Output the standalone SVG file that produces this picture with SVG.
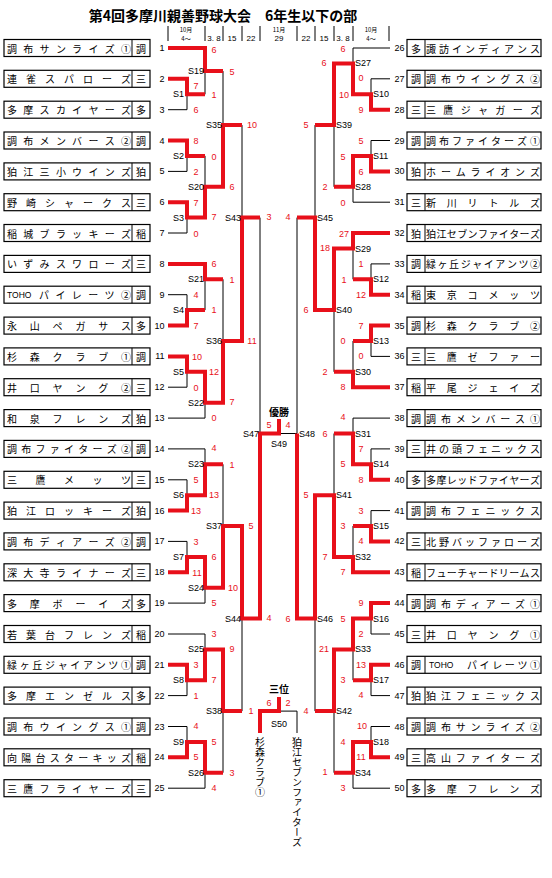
<svg xmlns="http://www.w3.org/2000/svg" xmlns:xlink="http://www.w3.org/1999/xlink" width="552" height="878" viewBox="0 0 552 878">
<style>
.title{font-family:"Noto Sans CJK JP",sans-serif;font-size:14px;font-weight:bold;text-anchor:middle;fill:#000}
.hd{font-family:"Liberation Sans","Noto Sans CJK JP",sans-serif;font-size:8px;text-anchor:middle;dominant-baseline:central;fill:#000}
.hs{font-family:"Noto Sans CJK JP",sans-serif;font-size:6px;text-anchor:middle;dominant-baseline:central;fill:#000}
.box{fill:#fff;stroke:#000;stroke-width:1.2}
.nm{font-family:"Noto Sans CJK JP",sans-serif;font-size:10px;text-anchor:middle;dominant-baseline:central;fill:#000}
.toho{font-family:"Liberation Sans",sans-serif;font-size:8.5px;dominant-baseline:central;fill:#000}
.nol{font-family:"Liberation Sans",sans-serif;font-size:9px;text-anchor:end;dominant-baseline:central;fill:#000}
.nor{font-family:"Liberation Sans",sans-serif;font-size:9px;text-anchor:start;dominant-baseline:central;fill:#000}
.sc{font-family:"Liberation Sans",sans-serif;font-size:9px;text-anchor:middle;dominant-baseline:central;fill:#e8101a}
.lbl{font-family:"Liberation Sans",sans-serif;font-size:9px;text-anchor:end;dominant-baseline:central;fill:#000}
.lbr{font-family:"Liberation Sans",sans-serif;font-size:9px;text-anchor:start;dominant-baseline:central;fill:#000}
.lbm{font-family:"Liberation Sans",sans-serif;font-size:9px;text-anchor:middle;dominant-baseline:central;fill:#000}
.fin{font-family:"Noto Sans CJK JP",sans-serif;font-size:10px;font-weight:bold;text-anchor:middle;dominant-baseline:central;fill:#000}
.vt{font-family:"Noto Sans CJK JP",sans-serif;font-size:10px;writing-mode:vertical-rl;fill:#000}
.blk{fill:none;stroke:#000;stroke-width:1}
.red{fill:none;stroke:#e8101a;stroke-width:4;stroke-linejoin:miter}
</style>
<defs>
<g id="lbox"><rect class="box" x="4" y="-8.5" width="146" height="17"/><line x1="132" y1="-8.5" x2="132" y2="8.5" stroke="#000" stroke-width="1"/></g>
<g id="rbox"><rect class="box" x="407" y="-8.5" width="134" height="17"/><line x1="425" y1="-8.5" x2="425" y2="8.5" stroke="#000" stroke-width="1"/></g>
</defs>
<rect width="552" height="878" fill="#fff"/>
<g id="header">
<text class="title" x="223" y="21">第4回多摩川親善野球大会　6年生以下の部</text>
<path d="M168,26V41M205,26V41M223,26V41M242,26V41M260,26V41M297,26V41M315,26V41M334,26V41M353,26V41M389,26V41" stroke="#000" stroke-width="1" fill="none"/>
<text class="hs" x="186" y="29.5">10月</text><text class="hs" x="186" y="38.5">4〜</text>
<text class="hd" x="214" y="38">3. 8</text><text class="hd" x="232" y="38">15</text><text class="hd" x="251" y="38">22</text>
<text class="hs" x="279" y="29">11月</text><text class="hd" x="279" y="38">29</text>
<text class="hd" x="306" y="38">22</text><text class="hd" x="324" y="38">15</text><text class="hd" x="343" y="38">3. 8</text>
<text class="hs" x="371" y="29.5">10月</text><text class="hs" x="371" y="38.5">4〜</text>
</g>
<g id="connectors">
<path class="blk" d="M168,109.7H187V94.3M205,94.3V71.1M168,171.4H187V155.9M168,233H187V217.6M205,155.9V186.8M223,71.1V125.1M168,294.7H187V310.1M205,310.1V279.3M168,387.2H187V371.8M168,418.1H205V402.7M223,279.3V341M242,125.1V217.6M168,479.8H187V495.2M168,448.9H205V464.3M168,541.4H187V556.9M168,603.1H205V587.7M223,464.3V526M168,695.6H187V680.2M168,634H205V649.4M168,726.5H187V741.9M168,788.2H205V772.7M223,772.7V711.1M242,711.1V618.5M260,217.6V433.5M390,78.8H371V94.3M390,48H353V63.4M390,140.5H371V155.9M390,202.2H353V186.8M334,186.8V125.1M390,263.9H371V279.3M353,279.3V248.5M390,356.4H371V341M353,341V371.8M334,371.8V310.1M315,125.1V217.6M390,448.9H371V464.3M390,418.1H353V433.5M390,510.6H371V526M353,526V556.9M334,433.5V495.2M390,634H371V618.5M390,695.6H371V680.2M353,680.2V649.4M390,726.5H371V741.9M390,788.2H353V772.7M334,772.7V711.1M315,711.1V618.5M297,217.6V433.5M297,433.5H279M297,733V711.1H279"/>
<path class="red" d="M168,78.8H187V94.3H205M168,48H205V71.1H223M168,140.5H187V155.9H205M168,202.2H187V217.6H205M187,217.6H205V186.8H223M205,186.8H223V125.1H242M168,325.6H187V310.1H205M168,263.9H205V279.3H223M168,356.4H187V371.8H205M187,371.8H205V402.7H223M205,402.7H223V341H242M223,341H242V217.6H260M168,510.6H187V495.2H205M187,495.2H205V464.3H223M168,572.3H187V556.9H205M187,556.9H205V587.7H223M205,587.7H223V526H242M168,664.8H187V680.2H205M187,680.2H205V649.4H223M168,757.3H187V741.9H205M187,741.9H205V772.7H223M205,649.4H223V711.1H242M223,526H242V618.5H260M242,618.5H260V433.5H279V419M260,733V711.1H279V697M390,109.7H371V94.3H353M371,94.3H353V63.4H334M390,171.4H371V155.9H353M371,155.9H353V186.8H334M353,63.4H334V125.1H315M390,294.7H371V279.3H353M390,233H353V248.5H334M390,325.6H371V341H353M390,387.2H353V371.8H334M353,248.5H334V310.1H315M334,310.1H315V217.6H297M390,479.8H371V464.3H353M371,464.3H353V433.5H334M390,541.4H371V526H353M390,572.3H353V556.9H334M353,556.9H334V495.2H315M390,603.1H371V618.5H353M390,664.8H371V680.2H353M371,618.5H353V649.4H334M390,757.3H371V741.9H353M371,741.9H353V772.7H334M353,649.4H334V711.1H315M334,495.2H315V618.5H297M315,618.5H297V433.5"/>
</g>
<g id="t1"><use xlink:href="#lbox" y="48"/><text class="nm" x="12 28.3 44.6 60.9 77.1 93.4 109.7 126" y="48">調布サンライズ①</text><text class="nm" x="141" y="48">調</text><text class="nol" x="164.5" y="48">1</text></g>
<g id="t2"><use xlink:href="#lbox" y="78.8"/><text class="nm" x="12 31 50 69 88 107 126" y="78.8">連雀スパローズ</text><text class="nm" x="141" y="78.8">三</text><text class="nol" x="164.5" y="78.8">2</text></g>
<g id="t3"><use xlink:href="#lbox" y="109.7"/><text class="nm" x="12 28.3 44.6 60.9 77.1 93.4 109.7 126" y="109.7">多摩スカイヤーズ</text><text class="nm" x="141" y="109.7">多</text><text class="nol" x="164.5" y="109.7">3</text></g>
<g id="t4"><use xlink:href="#lbox" y="140.5"/><text class="nm" x="12 28.3 44.6 60.9 77.1 93.4 109.7 126" y="140.5">調布メンバース②</text><text class="nm" x="141" y="140.5">調</text><text class="nol" x="164.5" y="140.5">4</text></g>
<g id="t5"><use xlink:href="#lbox" y="171.4"/><text class="nm" x="12 28.3 44.6 60.9 77.1 93.4 109.7 126" y="171.4">狛江三小ウインズ</text><text class="nm" x="141" y="171.4">狛</text><text class="nol" x="164.5" y="171.4">5</text></g>
<g id="t6"><use xlink:href="#lbox" y="202.2"/><text class="nm" x="12 31 50 69 88 107 126" y="202.2">野崎シャークス</text><text class="nm" x="141" y="202.2">三</text><text class="nol" x="164.5" y="202.2">6</text></g>
<g id="t7"><use xlink:href="#lbox" y="233"/><text class="nm" x="12 28.3 44.6 60.9 77.1 93.4 109.7 126" y="233">稲城ブラッキーズ</text><text class="nm" x="141" y="233">稲</text><text class="nol" x="164.5" y="233">7</text></g>
<g id="t8"><use xlink:href="#lbox" y="263.9"/><text class="nm" x="12 28.3 44.6 60.9 77.1 93.4 109.7 126" y="263.9">いずみスワローズ</text><text class="nm" x="141" y="263.9">三</text><text class="nol" x="164.5" y="263.9">8</text></g>
<g id="t9"><use xlink:href="#lbox" y="294.7"/><text class="toho" x="7" y="294.7">TOHO</text><text class="nm" x="44 60.4 76.8 93.2 109.6 126" y="294.7">パイレーツ②</text><text class="nm" x="141" y="294.7">調</text><text class="nol" x="164.5" y="294.7">9</text></g>
<g id="t10"><use xlink:href="#lbox" y="325.6"/><text class="nm" x="12 34.8 57.6 80.4 103.2 126" y="325.6">永山ペガサス</text><text class="nm" x="141" y="325.6">多</text><text class="nol" x="164.5" y="325.6">10</text></g>
<g id="t11"><use xlink:href="#lbox" y="356.4"/><text class="nm" x="12 34.8 57.6 80.4 103.2 126" y="356.4">杉森クラブ①</text><text class="nm" x="141" y="356.4">調</text><text class="nol" x="164.5" y="356.4">11</text></g>
<g id="t12"><use xlink:href="#lbox" y="387.2"/><text class="nm" x="12 34.8 57.6 80.4 103.2 126" y="387.2">井口ヤング②</text><text class="nm" x="141" y="387.2">三</text><text class="nol" x="164.5" y="387.2">12</text></g>
<g id="t13"><use xlink:href="#lbox" y="418.1"/><text class="nm" x="12 34.8 57.6 80.4 103.2 126" y="418.1">和泉フレンズ</text><text class="nm" x="141" y="418.1">狛</text><text class="nol" x="164.5" y="418.1">13</text></g>
<g id="t14"><use xlink:href="#lbox" y="448.9"/><text class="nm" x="12 26.3 40.5 54.8 69 83.3 97.5 111.8 126" y="448.9">調布ファイターズ②</text><text class="nm" x="141" y="448.9">調</text><text class="nol" x="164.5" y="448.9">14</text></g>
<g id="t15"><use xlink:href="#lbox" y="479.8"/><text class="nm" x="12 40.5 69 97.5 126" y="479.8">三鷹メッツ</text><text class="nm" x="141" y="479.8">三</text><text class="nol" x="164.5" y="479.8">15</text></g>
<g id="t16"><use xlink:href="#lbox" y="510.6"/><text class="nm" x="12 31 50 69 88 107 126" y="510.6">狛江ロッキーズ</text><text class="nm" x="141" y="510.6">狛</text><text class="nol" x="164.5" y="510.6">16</text></g>
<g id="t17"><use xlink:href="#lbox" y="541.4"/><text class="nm" x="12 28.3 44.6 60.9 77.1 93.4 109.7 126" y="541.4">調布ディアーズ②</text><text class="nm" x="141" y="541.4">調</text><text class="nol" x="164.5" y="541.4">17</text></g>
<g id="t18"><use xlink:href="#lbox" y="572.3"/><text class="nm" x="12 28.3 44.6 60.9 77.1 93.4 109.7 126" y="572.3">深大寺ライナーズ</text><text class="nm" x="141" y="572.3">三</text><text class="nol" x="164.5" y="572.3">18</text></g>
<g id="t19"><use xlink:href="#lbox" y="603.1"/><text class="nm" x="12 34.8 57.6 80.4 103.2 126" y="603.1">多摩ボーイズ</text><text class="nm" x="141" y="603.1">多</text><text class="nol" x="164.5" y="603.1">19</text></g>
<g id="t20"><use xlink:href="#lbox" y="634"/><text class="nm" x="12 31 50 69 88 107 126" y="634">若葉台フレンズ</text><text class="nm" x="141" y="634">稲</text><text class="nol" x="164.5" y="634">20</text></g>
<g id="t21"><use xlink:href="#lbox" y="664.8"/><text class="nm" x="12 24.7 37.3 50 62.7 75.3 88 100.7 113.3 126" y="664.8">緑ヶ丘ジャイアンツ①</text><text class="nm" x="141" y="664.8">調</text><text class="nol" x="164.5" y="664.8">21</text></g>
<g id="t22"><use xlink:href="#lbox" y="695.6"/><text class="nm" x="12 31 50 69 88 107 126" y="695.6">多摩エンゼルス</text><text class="nm" x="141" y="695.6">多</text><text class="nol" x="164.5" y="695.6">22</text></g>
<g id="t23"><use xlink:href="#lbox" y="726.5"/><text class="nm" x="12 28.3 44.6 60.9 77.1 93.4 109.7 126" y="726.5">調布ウイングス①</text><text class="nm" x="141" y="726.5">調</text><text class="nol" x="164.5" y="726.5">23</text></g>
<g id="t24"><use xlink:href="#lbox" y="757.3"/><text class="nm" x="12 26.3 40.5 54.8 69 83.3 97.5 111.8 126" y="757.3">向陽台スターキッズ</text><text class="nm" x="141" y="757.3">稲</text><text class="nol" x="164.5" y="757.3">24</text></g>
<g id="t25"><use xlink:href="#lbox" y="788.2"/><text class="nm" x="12 28.3 44.6 60.9 77.1 93.4 109.7 126" y="788.2">三鷹フライヤーズ</text><text class="nm" x="141" y="788.2">三</text><text class="nol" x="164.5" y="788.2">25</text></g>
<g id="t26"><use xlink:href="#rbox" y="48"/><text class="nm" x="416" y="48">多</text><text class="nm" x="431 444 457 470 483 496 509 522 535" y="48">諏訪インディアンス</text><text class="nor" x="394.5" y="48">26</text></g>
<g id="t27"><use xlink:href="#rbox" y="78.8"/><text class="nm" x="416" y="78.8">調</text><text class="nm" x="431 445.9 460.7 475.6 490.4 505.3 520.1 535" y="78.8">調布ウイングス②</text><text class="nor" x="394.5" y="78.8">27</text></g>
<g id="t28"><use xlink:href="#rbox" y="109.7"/><text class="nm" x="416" y="109.7">三</text><text class="nm" x="431 448.3 465.7 483 500.3 517.7 535" y="109.7">三鷹ジャガーズ</text><text class="nor" x="394.5" y="109.7">28</text></g>
<g id="t29"><use xlink:href="#rbox" y="140.5"/><text class="nm" x="416" y="140.5">調</text><text class="nm" x="431 444 457 470 483 496 509 522 535" y="140.5">調布ファイターズ①</text><text class="nor" x="394.5" y="140.5">29</text></g>
<g id="t30"><use xlink:href="#rbox" y="171.4"/><text class="nm" x="416" y="171.4">狛</text><text class="nm" x="431 445.9 460.7 475.6 490.4 505.3 520.1 535" y="171.4">ホームライオンズ</text><text class="nor" x="394.5" y="171.4">30</text></g>
<g id="t31"><use xlink:href="#rbox" y="202.2"/><text class="nm" x="416" y="202.2">三</text><text class="nm" x="431 451.8 472.6 493.4 514.2 535" y="202.2">新川リトルズ</text><text class="nor" x="394.5" y="202.2">31</text></g>
<g id="t32"><use xlink:href="#rbox" y="233"/><text class="nm" x="416" y="233">狛</text><text class="nm" x="431 441.4 451.8 462.2 472.6 483 493.4 503.8 514.2 524.6 535" y="233">狛江セブンファイターズ</text><text class="nor" x="394.5" y="233">32</text></g>
<g id="t33"><use xlink:href="#rbox" y="263.9"/><text class="nm" x="416" y="263.9">調</text><text class="nm" x="431 442.6 454.1 465.7 477.2 488.8 500.3 511.9 523.4 535" y="263.9">緑ヶ丘ジャイアンツ②</text><text class="nor" x="394.5" y="263.9">33</text></g>
<g id="t34"><use xlink:href="#rbox" y="294.7"/><text class="nm" x="416" y="294.7">稲</text><text class="nm" x="431 451.8 472.6 493.4 514.2 535" y="294.7">東京コメッツ</text><text class="nor" x="394.5" y="294.7">34</text></g>
<g id="t35"><use xlink:href="#rbox" y="325.6"/><text class="nm" x="416" y="325.6">調</text><text class="nm" x="431 451.8 472.6 493.4 514.2 535" y="325.6">杉森クラブ②</text><text class="nor" x="394.5" y="325.6">35</text></g>
<g id="t36"><use xlink:href="#rbox" y="356.4"/><text class="nm" x="416" y="356.4">三</text><text class="nm" x="431 451.8 472.6 493.4 514.2 535" y="356.4">三鷹ゼファー</text><text class="nor" x="394.5" y="356.4">36</text></g>
<g id="t37"><use xlink:href="#rbox" y="387.2"/><text class="nm" x="416" y="387.2">稲</text><text class="nm" x="431 451.8 472.6 493.4 514.2 535" y="387.2">平尾ジェイズ</text><text class="nor" x="394.5" y="387.2">37</text></g>
<g id="t38"><use xlink:href="#rbox" y="418.1"/><text class="nm" x="416" y="418.1">調</text><text class="nm" x="431 445.9 460.7 475.6 490.4 505.3 520.1 535" y="418.1">調布メンバース①</text><text class="nor" x="394.5" y="418.1">38</text></g>
<g id="t39"><use xlink:href="#rbox" y="448.9"/><text class="nm" x="416" y="448.9">三</text><text class="nm" x="431 444 457 470 483 496 509 522 535" y="448.9">井の頭フェニックス</text><text class="nor" x="394.5" y="448.9">39</text></g>
<g id="t40"><use xlink:href="#rbox" y="479.8"/><text class="nm" x="416" y="479.8">多</text><text class="nm" x="431 441.4 451.8 462.2 472.6 483 493.4 503.8 514.2 524.6 535" y="479.8">多摩レッドファイヤーズ</text><text class="nor" x="394.5" y="479.8">40</text></g>
<g id="t41"><use xlink:href="#rbox" y="510.6"/><text class="nm" x="416" y="510.6">調</text><text class="nm" x="431 445.9 460.7 475.6 490.4 505.3 520.1 535" y="510.6">調布フェニックス</text><text class="nor" x="394.5" y="510.6">41</text></g>
<g id="t42"><use xlink:href="#rbox" y="541.4"/><text class="nm" x="416" y="541.4">三</text><text class="nm" x="431 444 457 470 483 496 509 522 535" y="541.4">北野バッファローズ</text><text class="nor" x="394.5" y="541.4">42</text></g>
<g id="t43"><use xlink:href="#rbox" y="572.3"/><text class="nm" x="416" y="572.3">稲</text><text class="nm" x="431 441.4 451.8 462.2 472.6 483 493.4 503.8 514.2 524.6 535" y="572.3">フューチャードリームス</text><text class="nor" x="394.5" y="572.3">43</text></g>
<g id="t44"><use xlink:href="#rbox" y="603.1"/><text class="nm" x="416" y="603.1">調</text><text class="nm" x="431 445.9 460.7 475.6 490.4 505.3 520.1 535" y="603.1">調布ディアーズ①</text><text class="nor" x="394.5" y="603.1">44</text></g>
<g id="t45"><use xlink:href="#rbox" y="634"/><text class="nm" x="416" y="634">三</text><text class="nm" x="431 451.8 472.6 493.4 514.2 535" y="634">井口ヤング①</text><text class="nor" x="394.5" y="634">45</text></g>
<g id="t46"><use xlink:href="#rbox" y="664.8"/><text class="nm" x="416" y="664.8">調</text><text class="toho" x="429" y="664.8">TOHO</text><text class="nm" x="472 484.6 497.2 509.8 522.4 535" y="664.8">パイレーツ①</text><text class="nor" x="394.5" y="664.8">46</text></g>
<g id="t47"><use xlink:href="#rbox" y="695.6"/><text class="nm" x="416" y="695.6">狛</text><text class="nm" x="431 445.9 460.7 475.6 490.4 505.3 520.1 535" y="695.6">狛江フェニックス</text><text class="nor" x="394.5" y="695.6">47</text></g>
<g id="t48"><use xlink:href="#rbox" y="726.5"/><text class="nm" x="416" y="726.5">調</text><text class="nm" x="431 445.9 460.7 475.6 490.4 505.3 520.1 535" y="726.5">調布サンライズ②</text><text class="nor" x="394.5" y="726.5">48</text></g>
<g id="t49"><use xlink:href="#rbox" y="757.3"/><text class="nm" x="416" y="757.3">三</text><text class="nm" x="431 445.9 460.7 475.6 490.4 505.3 520.1 535" y="757.3">高山ファイターズ</text><text class="nor" x="394.5" y="757.3">49</text></g>
<g id="t50"><use xlink:href="#rbox" y="788.2"/><text class="nm" x="416" y="788.2">多</text><text class="nm" x="431 451.8 472.6 493.4 514.2 535" y="788.2">多摩フレンズ</text><text class="nor" x="394.5" y="788.2">50</text></g>
<g id="match-labels">
<text class="lbl" x="184" y="94.3">S1</text><text class="lbl" x="184" y="155.9">S2</text><text class="lbl" x="184" y="217.6">S3</text><text class="lbl" x="184" y="310.1">S4</text><text class="lbl" x="184" y="371.8">S5</text><text class="lbl" x="184" y="495.2">S6</text><text class="lbl" x="184" y="556.9">S7</text><text class="lbl" x="184" y="680.2">S8</text><text class="lbl" x="184" y="741.9">S9</text>
<text class="lbl" x="204" y="71.1">S19</text><text class="lbl" x="204" y="186.8">S20</text><text class="lbl" x="204" y="279.3">S21</text><text class="lbl" x="204" y="402.7">S22</text><text class="lbl" x="204" y="464.3">S23</text><text class="lbl" x="204" y="587.7">S24</text><text class="lbl" x="204" y="649.4">S25</text><text class="lbl" x="204" y="772.7">S26</text>
<text class="lbl" x="222" y="125.1">S35</text><text class="lbl" x="222" y="341">S36</text><text class="lbl" x="222" y="526">S37</text><text class="lbl" x="222" y="711.1">S38</text>
<text class="lbl" x="241" y="217.6">S43</text><text class="lbl" x="241" y="618.5">S44</text><text class="lbl" x="259" y="433.5">S47</text>
<text class="lbr" x="373" y="94.3">S10</text><text class="lbr" x="373" y="155.9">S11</text><text class="lbr" x="373" y="279.3">S12</text><text class="lbr" x="373" y="341">S13</text><text class="lbr" x="373" y="464.3">S14</text><text class="lbr" x="373" y="526">S15</text><text class="lbr" x="373" y="618.5">S16</text><text class="lbr" x="373" y="680.2">S17</text><text class="lbr" x="373" y="741.9">S18</text>
<text class="lbr" x="355" y="63.4">S27</text><text class="lbr" x="355" y="186.8">S28</text><text class="lbr" x="355" y="248.5">S29</text><text class="lbr" x="355" y="371.8">S30</text><text class="lbr" x="355" y="433.5">S31</text><text class="lbr" x="355" y="556.9">S32</text><text class="lbr" x="355" y="649.4">S33</text><text class="lbr" x="355" y="772.7">S34</text>
<text class="lbr" x="336" y="125.1">S39</text><text class="lbr" x="336" y="310.1">S40</text><text class="lbr" x="336" y="495.2">S41</text><text class="lbr" x="336" y="711.1">S42</text>
<text class="lbr" x="317" y="217.6">S45</text><text class="lbr" x="317" y="618.5">S46</text><text class="lbr" x="299" y="433.5">S48</text>
<text class="lbm" x="279" y="444">S49</text><text class="lbm" x="279" y="724">S50</text>
<text class="fin" x="279" y="411">優勝</text><text class="fin" x="279" y="688">三位</text>
</g>
<g id="scores">
<text class="sc" x="214" y="50">6</text><text class="sc" x="232" y="72">5</text><text class="sc" x="196" y="86">7</text><text class="sc" x="214" y="95">1</text><text class="sc" x="196" y="110">6</text><text class="sc" x="252" y="125">10</text><text class="sc" x="196" y="141">8</text><text class="sc" x="214" y="157">0</text><text class="sc" x="196" y="172">2</text><text class="sc" x="232" y="187">6</text><text class="sc" x="196" y="203">7</text><text class="sc" x="214" y="217">7</text><text class="sc" x="269" y="217">3</text><text class="sc" x="196" y="234">0</text><text class="sc" x="214" y="264">6</text><text class="sc" x="232" y="280">1</text><text class="sc" x="196" y="295">4</text><text class="sc" x="214" y="310">1</text><text class="sc" x="196" y="326">7</text><text class="sc" x="252" y="341">11</text><text class="sc" x="197" y="357">10</text><text class="sc" x="214" y="372">12</text><text class="sc" x="196" y="388">0</text><text class="sc" x="232" y="402">7</text><text class="sc" x="214" y="418">0</text><text class="sc" x="269" y="425">5</text><text class="sc" x="214" y="448">4</text><text class="sc" x="232" y="465">1</text><text class="sc" x="196" y="480">5</text><text class="sc" x="214" y="495">13</text><text class="sc" x="196" y="511">13</text><text class="sc" x="251" y="526">5</text><text class="sc" x="196" y="542">3</text><text class="sc" x="214" y="557">6</text><text class="sc" x="197" y="573">11</text><text class="sc" x="233" y="588">10</text><text class="sc" x="214" y="603">5</text><text class="sc" x="269" y="618">4</text><text class="sc" x="214" y="634">3</text><text class="sc" x="232" y="649">9</text><text class="sc" x="196" y="665">3</text><text class="sc" x="214" y="680">7</text><text class="sc" x="196" y="696">1</text><text class="sc" x="269" y="703">6</text><text class="sc" x="251" y="711">1</text><text class="sc" x="196" y="726">4</text><text class="sc" x="214" y="742">5</text><text class="sc" x="196" y="757">5</text><text class="sc" x="232" y="773">3</text><text class="sc" x="214" y="788">4</text>
<text class="sc" x="343" y="49">6</text><text class="sc" x="324" y="63">6</text><text class="sc" x="361" y="78">0</text><text class="sc" x="344" y="95">10</text><text class="sc" x="361" y="110">9</text><text class="sc" x="306" y="125">5</text><text class="sc" x="361" y="141">5</text><text class="sc" x="343" y="157">5</text><text class="sc" x="361" y="172">6</text><text class="sc" x="325" y="187">2</text><text class="sc" x="343" y="203">0</text><text class="sc" x="288" y="217">4</text><text class="sc" x="344" y="234">27</text><text class="sc" x="325" y="248">18</text><text class="sc" x="361" y="264">1</text><text class="sc" x="344" y="280">1</text><text class="sc" x="361" y="295">12</text><text class="sc" x="306" y="310">6</text><text class="sc" x="361" y="326">7</text><text class="sc" x="343" y="341">0</text><text class="sc" x="361" y="356">0</text><text class="sc" x="325" y="372">2</text><text class="sc" x="343" y="387">8</text><text class="sc" x="288" y="425">4</text><text class="sc" x="343" y="417">4</text><text class="sc" x="325" y="434">6</text><text class="sc" x="361" y="449">7</text><text class="sc" x="343" y="464">5</text><text class="sc" x="361" y="480">8</text><text class="sc" x="306" y="495">5</text><text class="sc" x="361" y="511">3</text><text class="sc" x="343" y="526">3</text><text class="sc" x="361" y="541">4</text><text class="sc" x="325" y="557">7</text><text class="sc" x="343" y="572">7</text><text class="sc" x="361" y="603">9</text><text class="sc" x="288" y="619">6</text><text class="sc" x="343" y="619">5</text><text class="sc" x="361" y="634">2</text><text class="sc" x="324" y="649">21</text><text class="sc" x="361" y="665">13</text><text class="sc" x="343" y="680">3</text><text class="sc" x="361" y="695">4</text><text class="sc" x="288" y="703">2</text><text class="sc" x="306" y="711">4</text><text class="sc" x="362" y="726">10</text><text class="sc" x="343" y="742">4</text><text class="sc" x="361" y="757">11</text><text class="sc" x="325" y="772">1</text><text class="sc" x="343" y="788">3</text>
</g>
<g id="third-place-teams">
<text class="vt" x="260" y="737">杉森クラブ①</text>
<text class="vt" x="297" y="737">狛江セブンファイターズ</text>
</g>
</svg>
